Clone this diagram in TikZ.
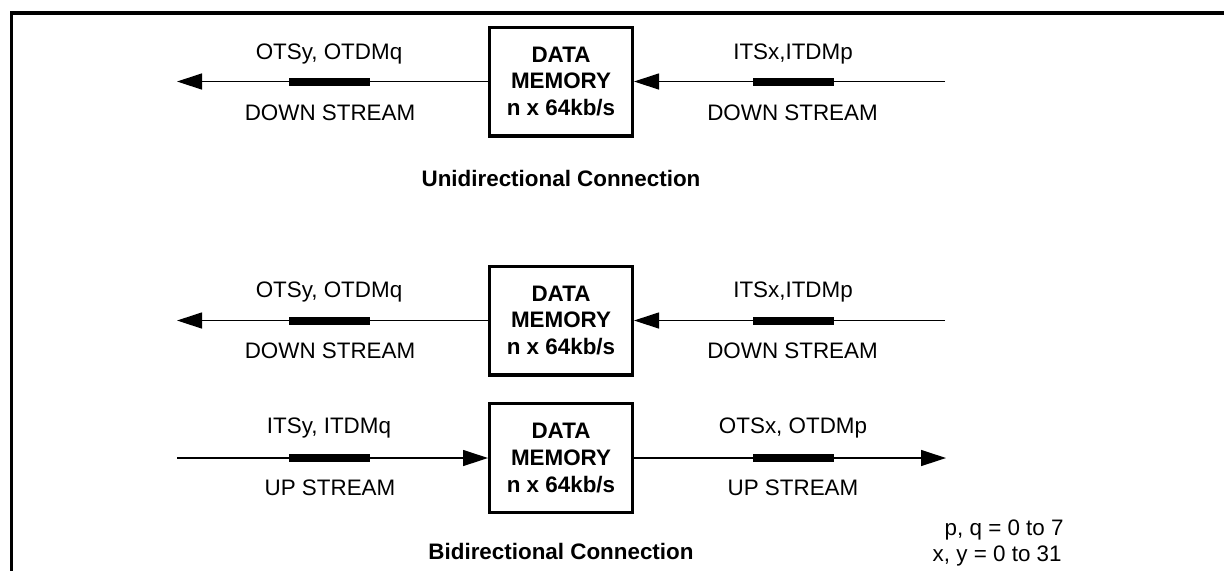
\documentclass[tikz,border=0pt]{standalone}
\usepackage{fontspec}
\setmainfont{Liberation Sans}
\usetikzlibrary{arrows.meta}
\begin{document}
\begin{tikzpicture}[x=0.5pt,y=-0.5pt,
  lab/.style={font=\fontsize{11.2}{13.3}\selectfont, inner sep=0pt, anchor=base},
  blab/.style={lab, font=\fontsize{11.2}{13.3}\selectfont\bfseries},
  membox/.style={draw, line width=1.65pt, minimum width=71.35pt, minimum height=54.35pt,
    inner sep=0pt, align=center, font=\fontsize{11.2}{13.3}\selectfont\bfseries},
  wire/.style={line width=0.65pt},
  flow/.style={wire, -{Triangle[length=12.5pt,width=8pt]}},
  bar/.style={fill=black, inner sep=0pt, minimum width=40.5pt, minimum height=4pt}]
\useasboundingbox (0,0) rectangle (1224,570);
% frame
\draw[line width=1.65pt] (1230,13) -- (11.7,13) -- (11.7,580);

% boxes
\node[membox] (m1) at (561,81.5) {DATA\\MEMORY\\n x 64kb/s};
\node[membox] (m2) at (561,320.5) {DATA\\MEMORY\\n x 64kb/s};
\node[membox] (m3) at (561,458) {DATA\\MEMORY\\n x 64kb/s};

% end points
\coordinate (l1) at (177,81.5);
\coordinate (r1) at (945,81.5);
\coordinate (l2) at (177,320.5);
\coordinate (r2) at (945,320.5);
\coordinate (l3) at (177,458);
\coordinate (r3) at (946,458);

% connectors
\draw[flow] (m1.west) -- (l1);
\draw[flow] (r1) -- (m1.east);
\draw[flow] (m2.west) -- (l2);
\draw[flow] (r2) -- (m2.east);
\draw[flow] (l3) -- (m3.west);
\draw[flow] (m3.east) -- (r3);

% bars
\node[bar] (b1l) at (329.5,81.5) {};
\node[bar] (b1r) at (793,81.5) {};
\node[bar] (b2l) at (329.5,320.5) {};
\node[bar] (b2r) at (793,320.5) {};
\node[bar] (b3l) at (329.5,458) {};
\node[bar] (b3r) at (793,458) {};

% labels row 1
\node[lab] (t1l) at (329,59) {OTSy, OTDMq};
\node[lab] (d1l) at (330,120) {DOWN STREAM};
\node[lab] (t1r) at (793,59) {ITSx,ITDMp};
\node[lab] (d1r) at (792.5,120) {DOWN STREAM};
\node[blab] (uni) at (561,186.7) {Unidirectional Connection};

% labels row 2
\node[lab] (t2l) at (329,297) {OTSy, OTDMq};
\node[lab] (d2l) at (330,358) {DOWN STREAM};
\node[lab] (t2r) at (793,297) {ITSx,ITDMp};
\node[lab] (d2r) at (792.5,358) {DOWN STREAM};

% labels row 3
\node[lab] (t3l) at (329,433) {ITSy, ITDMq};
\node[lab] (d3l) at (330,495) {UP STREAM};
\node[lab] (t3r) at (793,433) {OTSx, OTDMp};
\node[lab] (d3r) at (793,495) {UP STREAM};
\node[blab] (bi) at (561,559.3) {Bidirectional Connection};

% notes
\node[lab, anchor=base east] (n1) at (1064,535) {p, q = 0 to 7};
\node[lab, anchor=base east] (n2) at (1062,561.7) {x, y = 0 to 31};
\end{tikzpicture}
\end{document}
